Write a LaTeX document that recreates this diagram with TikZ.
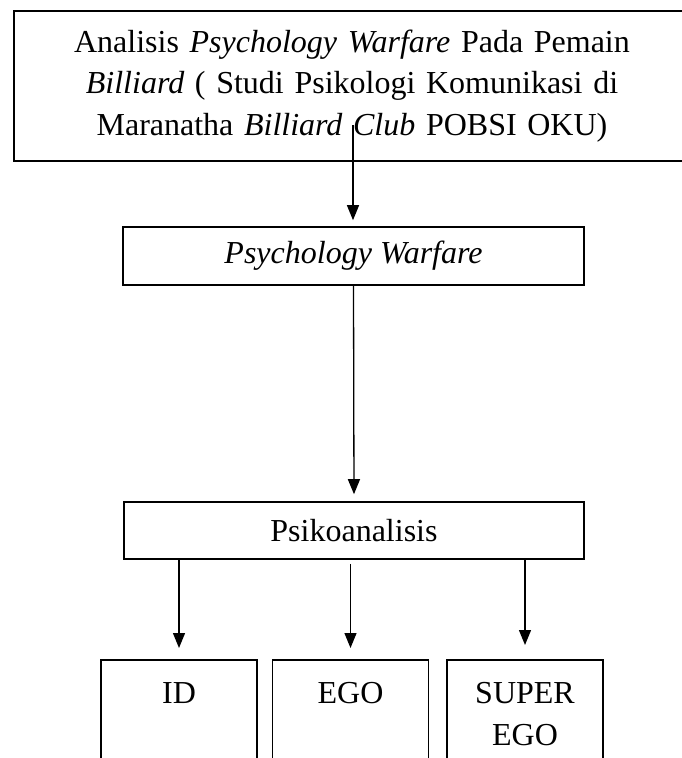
\documentclass[tikz,border=0pt]{standalone}
\usepackage{fontspec}
\setmainfont{Liberation Serif}
\usetikzlibrary{arrows.meta}

\begin{document}
\begin{tikzpicture}[x=1pt, y=-1pt,
        kotak/.style  = {draw, line width=1.6pt, align=center, inner sep=0pt, font=\fontsize{32}{41.5}\selectfont},
        egobox/.style = {kotak, anchor=north, minimum width=156pt, text width=150pt, text height=29pt, text depth=110pt, inner ysep=15pt},
        panah/.style  = {line width=1.3pt, -{Triangle[width=12pt, length=15pt]}}]
            \useasboundingbox (0,0) rectangle (681,758);
            % judul penelitian (kanan terpotong)
            \node[kotak, minimum width=676pt, minimum height=150pt, text width=640pt] (judul) at (352,86)
                 {Analisis \textit{Psychology Warfare} Pada Pemain\\ \textit{Billiard} ( Studi Psikologi Komunikasi di\\ Maranatha \textit{Billiard Club} POBSI OKU)};
            \node[kotak, minimum width=461pt, minimum height=58pt] (warfare) at (353.5,256) {\textit{Psychology Warfare}};
            \node[kotak, minimum width=460pt, minimum height=57pt] (psiko)   at (354.0,530.5) {Psikoanalisis};
            % tiga struktur kepribadian
            \node[egobox] (id)    at (179.0,659) {ID};
            \node[egobox] (ego)   at (350.5,659) {EGO};
            \node[egobox] (super) at (525.0,659) {SUPER\\EGO};
            % panah
            \coordinate (pangkal) at (353,125);
            \draw[panah, shorten >=6pt]  (pangkal) -- (pangkal |- warfare.north);
            \draw[panah, shorten >=7pt]  (warfare.south) -- (psiko.north);
            \draw[panah, shorten >=11pt] (psiko.south -| id.north)    -- (id.north);
            \draw[panah, shorten >=11pt, shorten <=4pt] (psiko.south -| ego.north) -- (ego.north);
            \draw[panah, shorten >=14pt] (psiko.south -| super.north) -- (super.north);
        \end{tikzpicture}
\end{document}
